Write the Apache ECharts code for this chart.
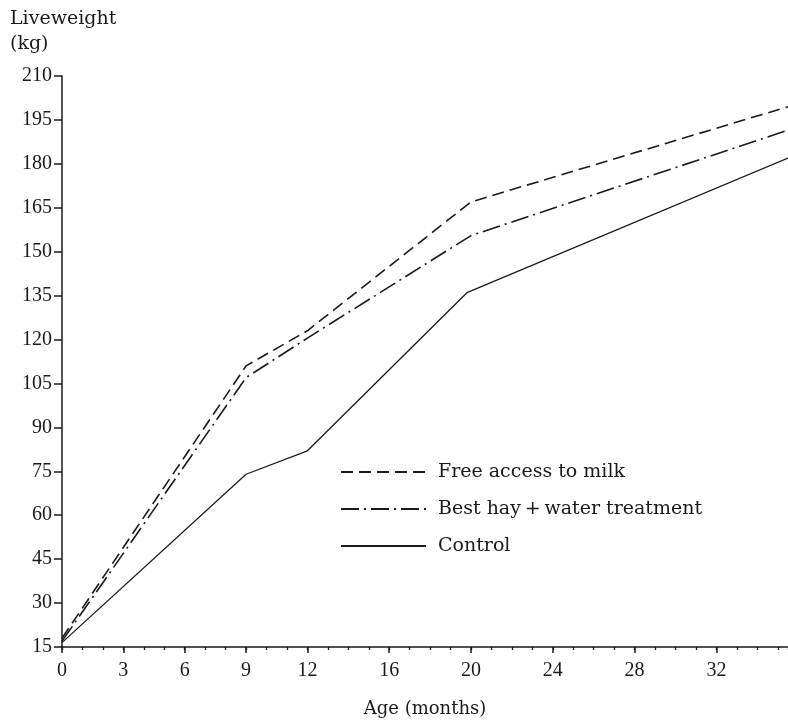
<!DOCTYPE html>
<html>
<head>
<meta charset="utf-8">
<script src="https://cdn.jsdelivr.net/npm/echarts@6/dist/echarts.min.js"></script>
<style>html,body{margin:0;padding:0;background:#fff}#c{width:788px;height:723px}</style>
</head>
<body>
<div id="c"></div>
<script>
var seriesNames = ['Free access to milk', 'Best hay\u2009+\u2009water treatment', 'Control'];
var freeMonths = [0, 9, 12, 20, 35.5];
var freeWeight = [18, 111, 123, 167, 199.5];
var hayMonths = [0, 9, 12, 20, 35.5];
var hayWeight = [17, 107, 120.5, 155.5, 191.5];
var controlMonths = [0, 9, 12, 19.8, 35.5];
var controlWeight = [16.5, 74, 82, 136, 182];
var xTickLabels = [0, 3, 6, 9, 12, 16, 20, 24, 28, 32];
var yMin = 15, yMax = 210, yStep = 15;

function pairs(xs, ys) { return xs.map(function (x, i) { return [x, ys[i]]; }); }

var NUMFONT = '"Liberation Serif", serif';
var TXTFONT = '"DejaVu Serif", "Liberation Serif", serif';
var INK = '#1a1a1a';

var chart = echarts.init(document.getElementById('c'), null, { renderer: 'canvas' });
chart.setOption({
  animation: false,
  backgroundColor: '#fff',
  textStyle: { fontFamily: NUMFONT, color: INK },
  grid: { left: 62, right: 0, top: 76, bottom: 76, containLabel: false, outerBoundsMode: 'none' },
  graphic: [
    { type: 'text', left: 10, top: 7, style: { text: 'Liveweight\n(kg)', font: '19px ' + TXTFONT, fill: INK, lineHeight: 25 } }
  ],
  legend: {
    orient: 'vertical', left: 340, top: 462, padding: 0, itemWidth: 85, itemHeight: 12, itemGap: 17,
    itemStyle: { opacity: 0 },
    textStyle: { fontFamily: TXTFONT, fontSize: 19, color: INK, lineHeight: 20, padding: [0, 0, 0, 7] },
    data: seriesNames
  },
  xAxis: [
    {
      type: 'value', min: 0, max: 35.5, interval: 1, position: 'bottom',
      axisLine: { show: true, onZero: false, lineStyle: { color: INK, width: 1.5 } },
      axisTick: { show: true, length: 3, lineStyle: { color: INK, width: 1.3 } },
      axisLabel: { show: false },
      splitLine: { show: false }
    },
    {
      type: 'value', min: 0, max: 35.5, interval: 1, position: 'bottom',
      name: 'Age (months)', nameLocation: 'middle', nameGap: 53,
      nameTextStyle: { fontFamily: TXTFONT, fontSize: 18, color: INK },
      axisLine: { show: false, onZero: false },
      axisTick: { show: true, length: 6, customValues: xTickLabels, lineStyle: { color: INK, width: 1.5 } },
      axisLabel: { show: true, customValues: xTickLabels, margin: 14, fontFamily: NUMFONT, fontSize: 20, color: INK },
      splitLine: { show: false }
    }
  ],
  yAxis: {
    type: 'value', min: yMin, max: yMax, interval: yStep,
    axisLine: { show: true, lineStyle: { color: INK, width: 1.5 } },
    axisTick: { show: true, length: 8, lineStyle: { color: INK, width: 1.5 } },
    axisLabel: { margin: 10, fontFamily: NUMFONT, fontSize: 20, color: INK },
    splitLine: { show: false }
  },
  series: [
    { name: seriesNames[0], type: 'line', xAxisIndex: 0, symbol: 'none', data: pairs(freeMonths, freeWeight),
      lineStyle: { color: INK, width: 1.6, type: [12, 6] }, itemStyle: { color: INK } },
    { name: seriesNames[1], type: 'line', xAxisIndex: 0, symbol: 'none', data: pairs(hayMonths, hayWeight),
      lineStyle: { color: INK, width: 1.6, type: [18, 5, 2, 5] }, itemStyle: { color: INK } },
    { name: seriesNames[2], type: 'line', xAxisIndex: 0, symbol: 'none', data: pairs(controlMonths, controlWeight),
      lineStyle: { color: INK, width: 1.3, type: 'solid' }, itemStyle: { color: INK } }
  ]
});
</script>
</body>
</html>
